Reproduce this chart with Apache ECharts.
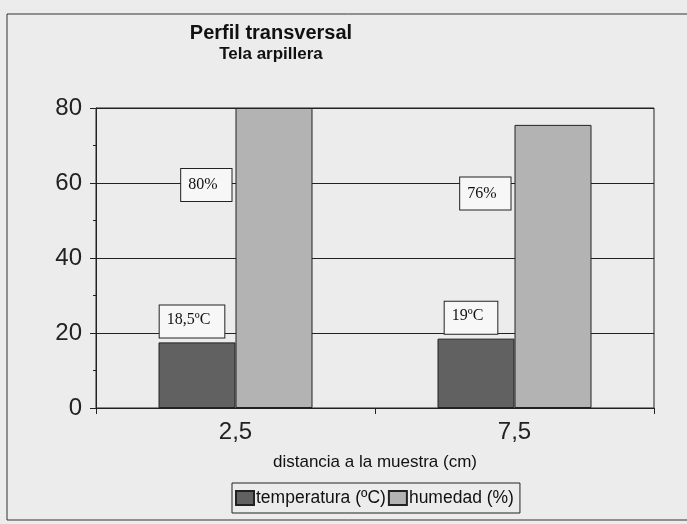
<!DOCTYPE html>
<html>
<head>
<meta charset="utf-8">
<script src="https://cdn.jsdelivr.net/npm/echarts@6/dist/echarts.min.js"></script>
<style>
  html, body { margin: 0; padding: 0; background: #ececec; }
  #chart-container { width: 687px; height: 524px; }
</style>
</head>
<body>
<div id="chart-container"></div>
<script>
// Perfil transversal - tela arpillera

var categories = ['2,5', '7,5'];
var temperatura = [17.5, 18.5];
var humedad = [80, 75.5];
var tempLabels = ['18,5ºC', '19ºC'];
var humLabels = ['80%', '76%'];
var seriesNames = ['temperatura (ºC)', 'humedad (%)'];

var myChart = echarts.init(document.getElementById('chart-container'));

// caja blanca con borde para las etiquetas
var boxLabel = {
    show: true,
    fontFamily: 'Liberation Serif',
    fontSize: 16,
    color: '#111',
    backgroundColor: '#f7f7f7',
    borderColor: '#222',
    borderWidth: 1,
    padding: [6, 14, 10, 7]
};

var option = {
    backgroundColor: '#ececec',
    animation: false,
    title: {
        text: 'Perfil transversal',
        subtext: 'Tela arpillera',
        left: 266,
        top: 18,
        textAlign: 'center',
        itemGap: 3,
        textStyle: {
            fontFamily: 'Liberation Sans',
            fontWeight: 'bold',
            fontSize: 20,
            color: '#111'
        },
        subtextStyle: {
            fontFamily: 'Liberation Sans',
            fontWeight: 'bold',
            fontSize: 17,
            color: '#111'
        }
    },
    graphic: [{
        type: 'rect',
        shape: { x: 7, y: 14, width: 690, height: 506 },
        style: { fill: 'none', stroke: '#333', lineWidth: 1 },
        silent: true
    }],
    legend: {
        bottom: 11,
        left: 232,
        icon: 'rect',
        itemWidth: 18,
        itemHeight: 14,
        itemGap: 2,
        borderColor: '#222',
        borderWidth: 1,
        padding: [6, 6, 6, 3],
        textStyle: {
            fontFamily: 'Liberation Sans',
            fontSize: 17.5,
            color: '#111',
            padding: [0, 0, 0, -3]
        },
        data: seriesNames
    },
    grid: {
        left: 96,
        right: 33,
        top: 108,
        bottom: 116,
        show: true,
        borderColor: '#222',
        borderWidth: 1,
        backgroundColor: 'transparent'
    },
    xAxis: {
        type: 'category',
        data: categories,
        name: 'distancia a la muestra (cm)',
        nameLocation: 'middle',
        nameGap: 46,
        nameTextStyle: { fontFamily: 'Liberation Sans', fontSize: 17, color: '#111' },
        axisLine: { lineStyle: { color: '#222', width: 1 } },
        axisTick: { show: true, length: 6, lineStyle: { color: '#222' } },
        axisLabel: { fontFamily: 'Liberation Sans', fontSize: 24, color: '#222', margin: 12 }
    },
    yAxis: {
        type: 'value',
        min: 0,
        max: 80,
        interval: 20,
        axisLine: { show: true, lineStyle: { color: '#222', width: 1 } },
        axisTick: { show: true, length: 6, lineStyle: { color: '#222' } },
        minorTick: { show: true, splitNumber: 2, length: 3, lineStyle: { color: '#222' } },
        splitLine: { show: true, lineStyle: { color: '#222', width: 1 } },
        axisLabel: { fontFamily: 'Liberation Sans', fontSize: 24, color: '#222', margin: 14 }
    },
    series: [
        {
            name: seriesNames[0],
            type: 'bar',
            barWidth: 77,
            barGap: '0%',
            itemStyle: { color: '#616161', borderColor: '#222', borderWidth: 1 },
            label: Object.assign({}, boxLabel, {
                position: 'top',
                distance: 5,
                offset: [-5, 0],
                formatter: function (p) { return tempLabels[p.dataIndex]; }
            }),
            data: temperatura
        },
        {
            name: seriesNames[1],
            type: 'bar',
            barWidth: 77,
            barGap: '0%',
            itemStyle: { color: '#b3b3b3', borderColor: '#222', borderWidth: 1 },
            label: Object.assign({}, boxLabel, {
                position: 'left',
                distance: 4,
                offset: [0, -73],
                formatter: function (p) { return humLabels[p.dataIndex]; }
            }),
            data: humedad
        }
    ]
};

myChart.setOption(option);
</script>
</body>
</html>
